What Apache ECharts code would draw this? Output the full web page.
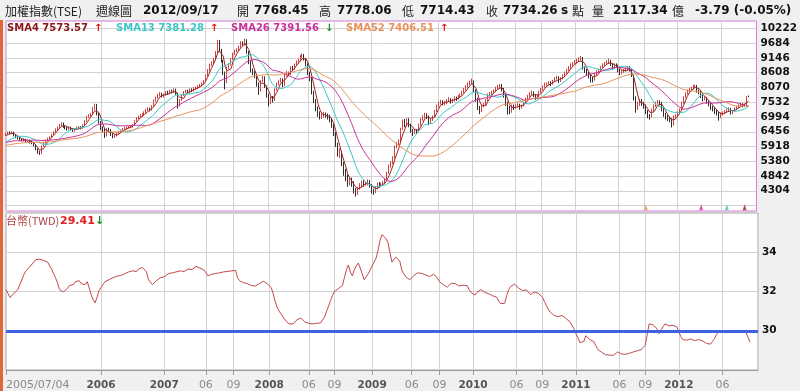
<!DOCTYPE html>
<html><head><meta charset="utf-8">
<script src="https://cdn.jsdelivr.net/npm/echarts@6/dist/echarts.min.js"></script>
<style>html,body{margin:0;padding:0;background:#f0f0f0}#c{width:800px;height:391px}</style>
</head><body><div id="c"></div><script>
// ---------------- data ----------------
const startDateUTC = [2005, 6, 4];   // 2005/07/04, weekly bars
const padWeeks = 4;                  // empty weeks on the right of the plot
// weekly closes of the 51 weeks before the first bar (for the moving averages)
const priorCloses = [5800,5750,5600,5550,5650,5750,5800,5780,5850,5900,5880,5850,5950,5800,5700,5720,
  5800,5850,5900,5950,5980,6000,6050,6100,6140,6050,5980,5950,6000,6050,6150,6200,6180,6150,
  6100,6050,6000,5980,5900,5850,5800,5850,5900,5950,6000,6050,6100,6150,6250,6300,6350];
// weekly bars [open, close, low, high]
const candles = [
[6350,6380,6300,6420],[6380,6420,6340,6460],[6420,6400,6360,6470],[6400,6440,6370,6480],[6440,6320,6290,6460],[6320,6260,6220,6350],[6260,6210,6170,6300],[6210,6180,6130,6260],[6180,6150,6100,6230],[6150,6160,6100,6220],
[6160,6110,6070,6200],[6110,6130,6060,6180],[6130,6080,6030,6170],[6080,6050,6000,6130],[6050,5960,5920,6090],[5960,5820,5780,5990],[5820,5720,5650,5850],[5720,5650,5610,5760],[5650,5930,5640,5950],[5930,6050,5900,6080],
[6050,6140,6020,6170],[6140,6200,6100,6240],[6200,6250,6160,6290],[6250,6350,6220,6380],[6350,6450,6320,6480],[6450,6550,6420,6580],[6550,6600,6500,6650],[6600,6700,6560,6740],[6700,6760,6650,6800],[6760,6650,6600,6790],
[6650,6600,6540,6690],[6600,6550,6500,6640],[6550,6610,6520,6650],[6610,6550,6510,6640],[6550,6500,6450,6590],[6500,6550,6460,6590],[6550,6600,6520,6640],[6600,6620,6560,6670],[6620,6580,6540,6660],[6580,6700,6560,6730],
[6700,6850,6680,6880],[6850,7000,6820,7030],[7000,7050,6960,7100],[7050,7100,7000,7150],[7100,7300,7080,7350],[7300,7450,7260,7480],[7450,7100,7050,7470],[7100,6800,6750,7150],[6800,6600,6520,6850],[6600,6500,6430,6650],
[6500,6300,6230,6560],[6300,6550,6280,6590],[6550,6500,6430,6600],[6500,6350,6300,6560],[6350,6250,6220,6400],[6250,6300,6230,6350],[6300,6400,6280,6440],[6400,6450,6370,6490],[6450,6500,6420,6540],[6500,6550,6470,6590],
[6550,6600,6520,6640],[6600,6600,6550,6650],[6600,6620,6570,6670],[6620,6650,6580,6700],[6650,6700,6610,6740],[6700,6850,6680,6880],[6850,6950,6820,6990],[6950,7000,6910,7050],[7000,7050,6960,7100],[7050,7100,7010,7140],
[7100,7150,7060,7200],[7150,7250,7120,7290],[7250,7300,7210,7350],[7300,7250,7200,7340],[7250,7400,7230,7430],[7400,7600,7380,7630],[7600,7700,7560,7740],[7700,7800,7660,7840],[7800,7850,7750,7900],[7850,7750,7700,7880],
[7750,7800,7700,7850],[7800,7900,7770,7940],[7900,7850,7800,7950],[7850,7950,7820,7990],[7950,7900,7850,7990],[7900,8000,7870,8040],[8000,7850,7800,8030],[7850,7400,7300,7880],[7400,7600,7380,7650],[7600,7800,7580,7830],
[7800,7900,7760,7940],[7900,7950,7860,7990],[7950,7900,7850,7990],[7900,8000,7870,8040],[8000,7950,7900,8040],[7950,8050,7920,8090],[8050,8050,7990,8100],[8050,8100,8010,8150],[8100,8150,8060,8200],[8150,8200,8110,8250],
[8200,8300,8170,8340],[8300,8500,8280,8540],[8500,8700,8470,8740],[8700,8900,8660,8940],[8900,8950,8850,9020],[8950,9100,8920,9150],[9100,9350,9080,9400],[9350,9750,9320,9810],[9750,9450,9380,9800],[9450,9050,8980,9480],
[9050,8600,8520,9080],[8600,8250,8000,8650],[8250,8800,8230,8830],[8800,8900,8750,8950],[8900,9100,8870,9150],[9100,9300,9070,9340],[9300,9400,9250,9450],[9400,9450,9350,9500],[9450,9550,9400,9600],[9550,9700,9520,9760],
[9700,9650,9580,9750],[9650,9800,9600,9860],[9800,9350,9300,9830],[9350,9000,8920,9400],[9000,8700,8620,9050],[8700,8600,8520,8760],[8600,8500,8420,8680],[8500,8200,8100,8550],[8200,7950,7800,8250],[7950,8300,7920,8340],
[8300,8450,8260,8500],[8450,8100,8050,8480],[8100,7800,7700,8150],[7800,7500,7380,7850],[7500,7700,7460,7750],[7700,7600,7520,7760],[7600,8000,7580,8040],[8000,8200,7960,8250],[8200,8300,8150,8350],[8300,8350,8250,8420],
[8350,8150,8080,8400],[8150,8550,8120,8600],[8550,8600,8480,8680],[8600,8550,8480,8650],[8550,8800,8520,8850],[8800,8750,8680,8860],[8750,8900,8720,8950],[8900,9000,8860,9060],[9000,9050,8950,9120],[9050,9200,9020,9260],
[9200,9250,9150,9310],[9250,9100,9050,9290],[9100,8900,8850,9150],[8900,8600,8520,8950],[8600,8400,8300,8650],[8400,7900,7820,8450],[7900,7600,7500,7950],[7600,7300,7200,7650],[7300,7100,7000,7380],[7100,7000,6900,7200],
[7000,7050,6920,7150],[7050,7100,6980,7180],[7100,7050,6970,7160],[7050,7000,6900,7120],[7000,6900,6800,7080],[6900,6700,6600,6950],[6700,6400,6300,6750],[6400,6000,5900,6450],[6000,5700,5550,6050],[5700,5700,5500,5850],
[5700,5300,5200,5750],[5300,5000,4850,5350],[5000,4800,4650,5100],[4800,4600,4450,4900],[4600,4700,4500,4800],[4700,4600,4450,4780],[4600,4300,4200,4650],[4300,4200,4090,4400],[4200,4400,4150,4450],[4400,4500,4350,4580],
[4500,4600,4420,4680],[4600,4550,4450,4700],[4550,4550,4480,4630],[4550,4650,4500,4720],[4650,4500,4420,4700],[4500,4300,4200,4550],[4300,4250,4160,4380],[4250,4400,4220,4450],[4400,4550,4380,4600],[4550,4500,4420,4620],
[4500,4550,4450,4600],[4550,4600,4480,4650],[4600,4700,4560,4760],[4700,4950,4680,5000],[4950,5200,4920,5260],[5200,5300,5150,5380],[5300,5500,5270,5560],[5500,5900,5480,5950],[5900,6000,5850,6080],[6000,6100,5950,6180],
[6100,6550,6080,6600],[6550,6850,6520,6900],[6850,6700,6620,6920],[6700,6900,6650,6950],[6900,6700,6620,6950],[6700,6500,6420,6750],[6500,6400,6300,6560],[6400,6500,6370,6560],[6500,6450,6380,6550],[6450,6700,6430,6750],
[6700,6900,6680,6950],[6900,7000,6860,7060],[7000,7100,6950,7150],[7100,7000,6920,7130],[7000,6800,6700,7050],[6800,6900,6750,6950],[6900,7000,6850,7050],[7000,7200,6980,7250],[7200,7400,7180,7450],[7400,7500,7350,7550],
[7500,7550,7450,7620],[7550,7500,7420,7600],[7500,7500,7420,7580],[7500,7600,7460,7650],[7600,7650,7550,7720],[7650,7550,7480,7680],[7550,7600,7500,7660],[7600,7700,7560,7750],[7700,7650,7580,7740],[7650,7750,7620,7800],
[7750,7800,7700,7850],[7800,7900,7770,7950],[7900,8000,7860,8050],[8000,8100,7960,8150],[8100,8200,8060,8250],[8200,8250,8150,8320],[8250,8300,8200,8400],[8300,7950,7900,8330],[7950,7650,7550,8000],[7650,7350,7250,7700],
[7350,7200,7100,7400],[7200,7400,7170,7450],[7400,7450,7350,7500],[7450,7600,7420,7650],[7600,7800,7570,7850],[7800,7850,7750,7900],[7850,7900,7800,7950],[7900,7950,7850,8000],[7950,8050,7920,8100],[8050,8100,8000,8160],
[8100,8150,8050,8200],[8150,8000,7920,8200],[8000,7800,7700,8050],[7800,7500,7400,7850],[7500,7300,7080,7550],[7300,7200,7100,7400],[7200,7400,7150,7450],[7400,7350,7250,7450],[7350,7400,7300,7460],[7400,7450,7350,7500],
[7450,7350,7260,7480],[7350,7400,7300,7450],[7400,7500,7370,7550],[7500,7650,7470,7700],[7650,7750,7620,7800],[7750,7850,7720,7900],[7850,7900,7800,7960],[7900,7800,7720,7930],[7800,7700,7620,7830],[7700,7750,7650,7800],
[7750,7900,7720,7950],[7900,8000,7870,8050],[8000,8100,7960,8150],[8100,8200,8060,8250],[8200,8200,8130,8260],[8200,8250,8150,8300],[8250,8200,8120,8290],[8200,8300,8170,8350],[8300,8400,8270,8450],[8400,8450,8360,8500],
[8450,8300,8230,8480],[8300,8400,8270,8450],[8400,8500,8370,8550],[8500,8600,8460,8650],[8600,8700,8560,8750],[8700,8800,8660,8850],[8800,8900,8760,8950],[8900,8950,8850,9000],[8950,9000,8900,9070],[9000,9050,8950,9120],
[9050,9100,9000,9170],[9100,9150,9050,9220],[9150,8800,8720,9180],[8800,8700,8600,8850],[8700,8600,8500,8750],[8600,8500,8400,8650],[8500,8400,8250,8550],[8400,8350,8250,8450],[8350,8550,8320,8600],[8550,8650,8500,8700],
[8650,8700,8600,8760],[8700,8800,8660,8850],[8800,8900,8760,8950],[8900,8950,8850,9000],[8950,9000,8900,9060],[9000,9050,8950,9120],[9050,8900,8850,9080],[8900,8800,8720,8950],[8800,8900,8760,8950],[8900,8850,8780,8950],
[8850,8700,8620,8900],[8700,8600,8520,8750],[8600,8650,8550,8700],[8650,8700,8600,8750],[8700,8750,8650,8800],[8750,8800,8700,8850],[8800,8700,8650,8850],[8700,8500,8450,8750],[8500,7700,7600,8520],[7700,7400,7150,7750],
[7400,7450,7250,7550],[7450,7600,7400,7650],[7600,7500,7400,7650],[7500,7400,7300,7550],[7400,7200,7100,7450],[7200,7050,6950,7250],[7050,7000,6900,7100],[7000,7250,6980,7300],[7250,7400,7200,7450],[7400,7500,7350,7550],
[7500,7550,7450,7620],[7550,7500,7420,7600],[7500,7300,7200,7550],[7300,7100,7000,7350],[7100,7000,6900,7150],[7000,6950,6850,7080],[6950,6900,6800,7000],[6900,6700,6610,6950],[6700,7000,6680,7050],[7000,7050,6950,7100],
[7050,7150,7000,7200],[7150,7250,7100,7300],[7250,7500,7230,7550],[7500,7700,7480,7750],[7700,7850,7680,7900],[7850,7950,7820,8000],[7950,8000,7900,8060],[8000,8050,7950,8100],[8050,8100,8000,8170],[8100,8150,8050,8170],
[8150,7950,7880,8160],[7950,7900,7820,8000],[7900,7750,7680,7950],[7750,7650,7560,7800],[7650,7700,7600,7750],[7700,7550,7480,7730],[7550,7450,7380,7600],[7450,7350,7250,7500],[7350,7300,7200,7400],[7300,7200,7100,7350],
[7200,7150,7050,7250],[7150,7000,6860,7180],[7000,7100,6950,7150],[7100,7150,7050,7200],[7150,7200,7100,7250],[7200,7250,7150,7300],[7250,7300,7200,7350],[7300,7150,7080,7330],[7150,7200,7100,7250],[7200,7300,7180,7350],
[7300,7370,7260,7400],[7370,7420,7330,7460],[7420,7470,7380,7510],[7470,7400,7350,7500],[7400,7440,7360,7480],[7440,7720,7420,7760],[7768.45,7734.26,7714.43,7778.06]
];
// weekly USD/TWD
const twd = [
32.10,31.90,31.70,31.75,31.90,31.85,32.10,32.35,32.60,32.85,
33.05,33.15,33.25,33.35,33.50,33.62,33.58,33.65,33.55,33.58,
33.52,33.50,33.40,33.15,33.05,32.70,32.45,32.10,32.00,31.98,
32.05,32.15,32.30,32.40,32.35,32.50,32.42,32.55,32.40,32.48,
32.35,32.50,32.20,31.85,31.60,31.42,31.70,32.05,32.20,32.35,
32.50,32.40,32.60,32.55,32.70,32.75,32.78,32.70,32.82,32.75,
32.90,32.95,33.00,32.92,33.05,33.10,33.02,33.15,33.20,33.22,
33.30,33.00,32.60,32.50,32.35,32.40,32.55,32.60,32.70,32.62,
32.75,32.80,32.90,33.00,32.95,33.05,33.00,33.08,33.05,33.10,
33.02,33.08,33.15,33.20,33.12,33.22,33.28,33.30,33.20,33.15,
33.10,32.95,32.80,32.78,32.88,32.85,32.92,32.88,32.95,32.90,
33.00,32.95,33.02,32.98,33.05,33.12,33.08,32.70,32.55,32.50,
32.45,32.38,32.40,32.32,32.30,32.35,32.28,32.30,32.40,32.50,
32.52,32.45,32.40,32.35,32.20,31.90,31.50,31.20,31.00,30.85,
30.70,30.55,30.45,30.35,30.30,30.35,30.45,30.55,30.62,30.65,
30.55,30.45,30.40,30.38,30.42,30.35,30.40,30.38,30.36,30.40,
30.45,30.70,31.00,31.25,31.55,31.80,32.00,32.05,32.15,32.25,
32.30,32.70,33.10,33.35,33.00,32.80,33.10,33.30,33.45,33.20,
32.90,32.60,32.75,32.90,33.10,33.30,33.50,33.70,34.10,34.60,
34.90,34.85,34.70,34.50,34.00,33.50,33.55,33.75,33.70,33.55,
33.10,32.90,32.75,32.65,32.60,32.70,32.80,32.85,32.95,33.00,
32.92,32.88,32.85,32.80,32.76,32.82,32.88,32.85,32.70,32.50,
32.45,32.35,32.25,32.22,32.30,32.42,32.50,32.40,32.30,32.28,
32.25,32.32,32.35,32.30,32.10,31.95,31.85,31.82,31.95,32.05,
32.10,32.00,31.95,31.90,31.88,31.85,31.78,31.75,31.70,31.50,
31.38,31.36,31.40,31.80,32.10,32.25,32.35,32.38,32.30,32.18,
32.15,32.05,32.10,32.08,32.00,31.85,31.88,31.98,32.00,31.90,
31.80,31.72,31.50,31.30,31.10,30.95,30.88,30.78,30.70,30.72,
30.68,30.78,30.75,30.62,30.55,30.45,30.38,30.10,29.85,29.65,
29.40,29.30,29.45,29.75,29.68,29.55,29.60,29.45,29.25,29.05,
28.95,28.90,28.82,28.78,28.80,28.76,28.80,28.75,28.85,28.92,
28.95,28.82,28.78,28.80,28.90,28.85,28.95,28.92,29.00,28.98,
29.02,29.05,29.15,29.25,29.80,30.35,30.40,30.30,30.35,30.10,
29.85,30.05,30.20,30.35,30.40,30.25,30.30,30.28,30.25,30.20,
29.95,29.70,29.55,29.58,29.52,29.55,29.58,29.55,29.50,29.52,
29.55,29.50,29.48,29.40,29.35,29.30,29.32,29.45,29.60,29.80,
29.95,29.98,29.92,29.96,29.90,29.88,29.92,29.98,30.00,29.96,
29.98,30.00,29.96,29.98,29.90,29.65,29.41
];
const twdRef = 30;
const priceGridTicks = [3766,4304,4842,5380,5918,6456,6994,7532,8070,8608,9146,9684,10222];
const priceLabelTicks = [4304,4842,5380,5918,6456,6994,7532,8070,8608,9146,9684,10222];
const xTicks = [
 ['2005/07/04','2005/07/04'],['2006/06/05','2006'],['2007/01/15','2007'],['2007/06/11','06'],['2007/09/17','09'],
 ['2008/01/21','2008'],['2008/06/09','06'],['2008/09/08','09'],['2009/01/19','2009'],['2009/06/08','06'],['2009/09/14','09'],
 ['2010/01/11','2010'],['2010/06/14','06'],['2010/09/13','09'],['2011/01/10','2011'],['2011/06/13','06'],['2011/09/12','09'],
 ['2012/01/09','2012'],['2012/06/11','06']
];
const smaPeriods = [4, 13, 26, 52];
const smaColors = ['#9a2424', '#3cc6c6', '#c8329a', '#e8935c'];
const smaTextColors = ['#8a1818', '#3cc6c6', '#c8329a', '#e8935c'];
const smaLast = ['7573.57', '7381.28', '7391.56', '7406.51'];
const smaUp = [true, true, false, true];
// small cross markers at the bottom of the price panel [date, sma index]
const crossMarks = [['2011/09/19', 3], ['2012/04/02', 2], ['2012/07/02', 1], ['2012/09/03', 0]];

// ---------------- build ----------------
function pad(n){return (n<10?'0':'')+n;}
const nWeeks = candles.length;
const cats = [];
const t0 = Date.UTC(startDateUTC[0], startDateUTC[1], startDateUTC[2]);
for (let i = 0; i < nWeeks + padWeeks; i++) {
  const d = new Date(t0 + i * 7 * 86400000);
  cats.push(d.getUTCFullYear() + '/' + pad(d.getUTCMonth() + 1) + '/' + pad(d.getUTCDate()));
}
const closes = candles.map(r => r[1]);
const allCloses = priorCloses.concat(closes);
const off = priorCloses.length;
function sma(n) {
  return closes.map((_, i) => {
    let s = 0; for (let k = 0; k < n; k++) s += allCloses[off + i - k];
    return +(s / n).toFixed(2);
  });
}
const tickMap = new Map(xTicks.map(t => [cats.indexOf(t[0]), t[1]]));
const tickFn = (i) => tickMap.has(i);

const chart = echarts.init(document.getElementById('c'), null, {renderer: 'canvas'});
const gridLine = {show: true, interval: tickFn, lineStyle: {color: '#d2d2d2', width: 1}};

const series = [{
  type: 'candlestick', xAxisIndex: 0, yAxisIndex: 0, data: candles, barWidth: 0.6,
  itemStyle: {color: '#d84040', color0: '#2e2e2e', borderColor: '#d84040', borderColor0: '#2e2e2e', borderWidth: 1}
}];
smaPeriods.forEach((p, k) => series.push({
  type: 'line', name: 'SMA' + p, xAxisIndex: 0, yAxisIndex: 0, data: sma(p), symbol: 'none',
  lineStyle: {color: smaColors[k], width: 1}, z: 3
}));
series.push({
  type: 'scatter', xAxisIndex: 0, yAxisIndex: 0, symbol: 'triangle', symbolSize: [4, 6],
  data: crossMarks.map(m => ({value: [m[0], 3700], itemStyle: {color: smaColors[m[1]]}})), z: 4
});
// reference line at 30 (drawn beneath the rate line)
series.push({
  type: 'line', xAxisIndex: 1, yAxisIndex: 1, data: [], z: 1,
  markLine: {silent: true, symbol: 'none', label: {show: false},
    lineStyle: {color: '#3d63e3', width: 3, type: 'solid'}, data: [{yAxis: twdRef}]}
});
series.push({
  type: 'line', xAxisIndex: 1, yAxisIndex: 1, data: twd, symbol: 'none', z: 3,
  lineStyle: {color: '#c24848', width: 1}
});

function txt(x, y, s, fill, font) {
  return {type: 'text', x: x, y: y, z: 100, style: {text: s, fill: fill, font: font, verticalAlign: 'middle', textVerticalAlign: 'middle'}};
}
const cjk = '12px "Noto Sans CJK TC"';
const bnum = 'bold 12px "DejaVu Sans"';
const graphics = [
  {type: 'rect', shape: {x: 0, y: 20, width: 3, height: 371}, style: {fill: '#e2663a'}, z: 100},
  txt(5, 11, '加權指數(TSE)', '#222', cjk),
  txt(96, 11, '週線圖', '#222', cjk),
  txt(143, 11, '2012/09/17', '#111', bnum),
  txt(237, 11, '開', '#222', cjk),
  txt(254, 11, '7768.45', '#111', bnum),
  txt(319, 11, '高', '#222', cjk),
  txt(337, 11, '7778.06', '#111', bnum),
  txt(402, 11, '低', '#222', cjk),
  txt(420, 11, '7714.43', '#111', bnum),
  txt(486, 11, '收', '#222', cjk),
  txt(503, 11, '7734.26', '#111', bnum),
  txt(561, 11, 's', '#111', bnum),
  txt(572, 11, '點', '#222', cjk),
  txt(592, 11, '量', '#222', cjk),
  txt(613, 11, '2117.34', '#111', bnum),
  txt(672, 11, '億', '#222', cjk),
  txt(695, 11, '-3.79 (-0.05%)', '#111', bnum),
  txt(6, 221, '台幣(TWD)', '#b04444', '11px "Noto Sans CJK TC"'),
  txt(60, 221, '29.41', '#e02020', 'bold 11px "DejaVu Sans"'),
  txt(95, 221, '↓', '#1a8a1a', 'bold 11px "DejaVu Sans"')
];
const smaX = [7, 116, 231, 346];
smaPeriods.forEach((p, k) => {
  graphics.push(txt(smaX[k], 28, 'SMA' + p + ' ' + smaLast[k], smaTextColors[k], 'bold 10px "DejaVu Sans"'));
  graphics.push(txt(smaX[k] + (p < 10 ? 87 : 94), 28, smaUp[k] ? '↑' : '↓', smaUp[k] ? '#e01010' : '#1a8a1a', 'bold 10px "DejaVu Sans"'));
});

chart.setOption({
  animation: false,
  backgroundColor: '#f0f0f0',
  grid: [
    {left: 6, right: 42, top: 21, height: 190, show: true, backgroundColor: '#ffffff', borderColor: '#d47ad4', borderWidth: 1},
    {left: 6, right: 42, top: 213, height: 158, show: true, backgroundColor: '#ffffff', borderColor: '#a8a8a8', borderWidth: 1}
  ],
  xAxis: [
    {gridIndex: 0, type: 'category', data: cats, boundaryGap: false,
     axisLine: {show: false}, axisTick: {show: false}, axisLabel: {show: false}, splitLine: gridLine},
    {gridIndex: 1, type: 'category', data: cats, boundaryGap: false,
     axisLine: {show: true, lineStyle: {color: '#9a9a9a'}},
     axisTick: {show: true, interval: tickFn, length: 5, lineStyle: {color: '#9a9a9a'}},
     splitLine: gridLine,
     axisLabel: {show: true, interval: tickFn, margin: 10, alignMinLabel: 'left',
       formatter: (v, i) => {
         const l = tickMap.get(i); if (l === undefined) return '';
         if (l.length === 4) return '{y|' + l + '}';
         return '{m|' + l + '}';
       },
       rich: {
         y: {fontFamily: 'DejaVu Sans', fontWeight: 'bold', fontSize: 10.5, color: '#555'},
         m: {fontFamily: 'DejaVu Sans', fontSize: 11, color: '#8a8a8a'}
       }}}
  ],
  yAxis: [
    {gridIndex: 0, type: 'value', position: 'right', min: 3566, max: 10495,
     axisLine: {show: false}, axisTick: {show: false, customValues: priceGridTicks},
     splitLine: {show: true, lineStyle: {color: '#d2d2d2', width: 1}},
     axisLabel: {customValues: priceLabelTicks, formatter: v => String(v), margin: 4, color: '#111', fontFamily: 'DejaVu Sans', fontWeight: 'bold', fontSize: 10.5}},
    {gridIndex: 1, type: 'value', position: 'right', min: 28, max: 36, interval: 2,
     axisLine: {show: false}, axisTick: {show: false},
     splitLine: {show: true, lineStyle: {color: '#d2d2d2', width: 1}},
     axisLabel: {showMinLabel: false, showMaxLabel: false, formatter: v => String(v), margin: 4, color: '#111', fontFamily: 'DejaVu Sans', fontWeight: 'bold', fontSize: 10.5}}
  ],
  series: series,
  graphic: graphics
});
</script></body></html>
